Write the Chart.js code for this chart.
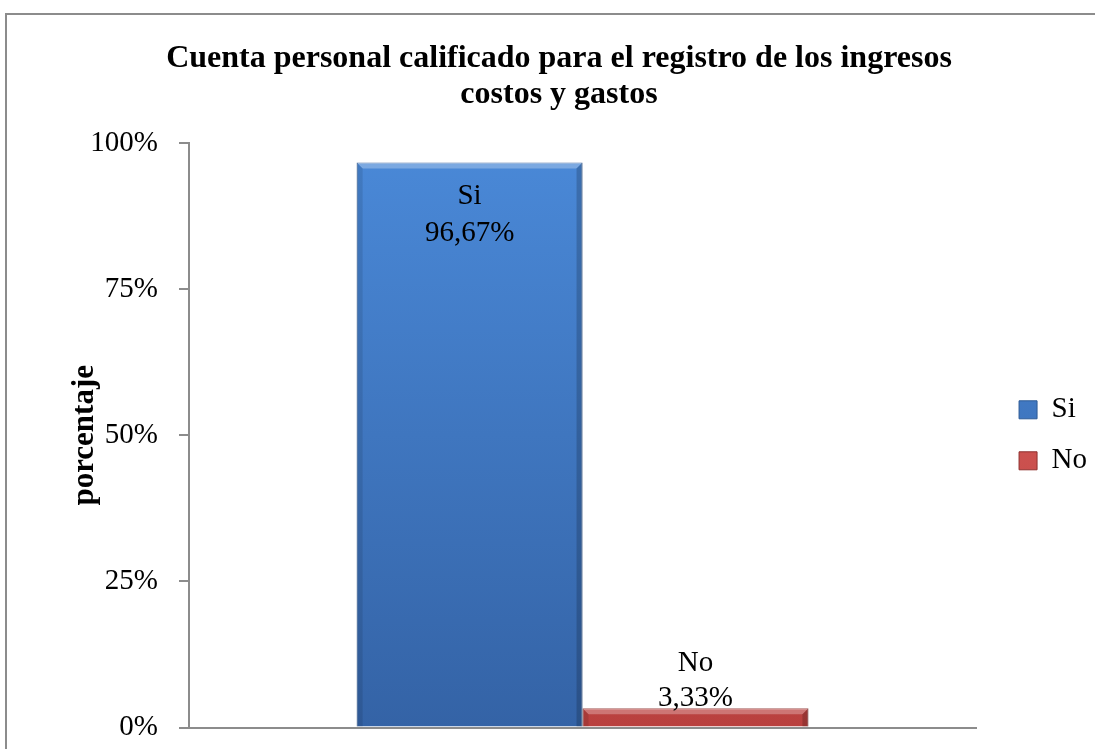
<!DOCTYPE html>
<html>
<head>
<meta charset="utf-8">
<script src="https://cdn.jsdelivr.net/npm/chart.js@4.4.1/dist/chart.umd.min.js"></script>
<style>
  html, body { margin: 0; padding: 0; background: #fff; overflow: hidden; }
  body { width: 1095px; height: 749px; position: relative; }
  #frame { position: absolute; left: 5px; top: 13px; width: 1200px; height: 900px;
           border-left: 2px solid #8c8c8c; border-top: 2px solid #8c8c8c; }
  #wrap { position: absolute; left: 0; top: 0; width: 1120px; height: 766px; }
</style>
</head>
<body>
<div id="frame"></div>
<div id="wrap"><canvas id="chart"></canvas></div>
<script>
const categories = [''];
const seriesNames = ['Si', 'No'];
const siValues = [96.67];
const noValues = [3.33];
const yTickLabels = ['0%', '25%', '50%', '75%', '100%'];
const titleLines = ['Cuenta personal calificado para el registro de los ingresos', 'costos y gastos'];
const yTitle = 'porcentaje';

const serif = "'Liberation Serif', 'Times New Roman', serif";

function barFill(top, bottom) {
    return (ctx) => {
        const area = ctx.chart.chartArea;
        if (!area) return top;
        const g = ctx.chart.ctx.createLinearGradient(0, area.top, 0, area.bottom);
        g.addColorStop(0, top);
        g.addColorStop(1, bottom);
        return g;
    };
}

// relieve sencillo sobre cada barra (borde superior claro, lados oscuros)
const bevelPlugin = {
    id: 'bevel',
    afterDatasetsDraw(chart) {
        const ctx = chart.ctx;
        ctx.save();
        chart.data.datasets.forEach((ds, i) => {
            chart.getDatasetMeta(i).data.forEach(bar => {
                const l = bar.x - bar.width / 2, r = bar.x + bar.width / 2;
                const t = bar.y, b = bar.base;
                const d = Math.min(6, (b - t) / 3);
                ctx.fillStyle = 'rgba(255,255,255,0.28)';
                ctx.beginPath();
                ctx.moveTo(l, t); ctx.lineTo(r, t); ctx.lineTo(r - d, t + d); ctx.lineTo(l + d, t + d);
                ctx.closePath(); ctx.fill();
                ctx.fillStyle = 'rgba(0,0,0,0.18)';
                ctx.beginPath();
                ctx.moveTo(r, t); ctx.lineTo(r, b); ctx.lineTo(r - d, b); ctx.lineTo(r - d, t + d);
                ctx.closePath(); ctx.fill();
                ctx.fillStyle = 'rgba(0,0,0,0.10)';
                ctx.beginPath();
                ctx.moveTo(l, t); ctx.lineTo(l + d, t + d); ctx.lineTo(l + d, b); ctx.lineTo(l, b);
                ctx.closePath(); ctx.fill();
            });
        });
        ctx.restore();
    }
};

// etiquetas de datos: nombre de la serie + valor
const labelPlugin = {
    id: 'barLabels',
    afterDatasetsDraw(chart) {
        const ctx = chart.ctx;
        ctx.save();
        ctx.font = '29px ' + serif;
        ctx.fillStyle = '#000';
        ctx.textAlign = 'center';
        ctx.textBaseline = 'middle';
        chart.data.datasets.forEach((ds, i) => {
            chart.getDatasetMeta(i).data.forEach((bar, j) => {
                const v = ds.data[j];
                const txt = v.toFixed(2).replace('.', ',') + '%';
                const h = bar.base - bar.y;
                if (h > 80) {
                    ctx.fillText(ds.label, bar.x, bar.y + 34);
                    ctx.fillText(txt, bar.x, bar.y + 71);
                } else {
                    ctx.fillText(ds.label, bar.x, bar.y - 45);
                    ctx.fillText(txt, bar.x, bar.y - 10);
                }
            });
        });
        ctx.restore();
    }
};

new Chart(document.getElementById('chart'), {
    type: 'bar',
    data: {
        labels: categories,
        datasets: [
            {
                label: seriesNames[0],
                data: siValues,
                backgroundColor: barFill('#4a89d8', '#3463a6'),
                borderColor: '#2d5a96',
                borderWidth: 1,
                borderSkipped: 'bottom'
            },
            {
                label: seriesNames[1],
                data: noValues,
                backgroundColor: barFill('#e06461', '#b9403e'),
                borderColor: '#8f302e',
                borderWidth: 1,
                borderSkipped: 'bottom'
            }
        ]
    },
    options: {
        responsive: true,
        maintainAspectRatio: false,
        animation: false,
        layout: { padding: { left: 21, right: 23, top: 0, bottom: 5 } },
        datasets: { bar: { categoryPercentage: 0.574, barPercentage: 1 } },
        plugins: {
            title: {
                display: true,
                text: titleLines,
                color: '#000',
                font: { family: serif, size: 32, weight: 'bold', lineHeight: 1.125 },
                padding: { top: 41, bottom: 30 }
            },
            legend: {
                position: 'right',
                fullSize: false,
                labels: {
                    color: '#000',
                    font: { family: serif, size: 29 },
                    boxWidth: 18,
                    boxHeight: 18,
                    padding: 22
                }
            },
            tooltip: { enabled: false }
        },
        scales: {
            x: {
                grid: { display: false },
                ticks: { display: false },
                border: { display: true, color: '#8c8c8c', width: 2 },
                afterFit: (s) => { s.height = 0; }
            },
            y: {
                min: 0,
                max: 100,
                ticks: {
                    stepSize: 25,
                    color: '#000',
                    padding: 21,
                    font: { family: serif, size: 29 },
                    callback: (v, i) => yTickLabels[i]
                },
                grid: { drawOnChartArea: false, drawTicks: true, tickLength: 10, color: '#8c8c8c', lineWidth: 2 },
                border: { display: true, color: '#8c8c8c', width: 2 },
                title: {
                    display: true,
                    text: yTitle,
                    color: '#000',
                    font: { family: serif, size: 31, weight: 'bold' },
                    padding: { top: 45, bottom: 4 }
                },
                afterFit: (s) => { s.width = 168; }
            },
            spacer: {
                position: 'right',
                display: true,
                grid: { display: false },
                ticks: { display: false },
                border: { display: false },
                afterFit: (s) => { s.width = 21; }
            }
        }
    },
    plugins: [bevelPlugin, labelPlugin]
});
</script>
</body>
</html>
